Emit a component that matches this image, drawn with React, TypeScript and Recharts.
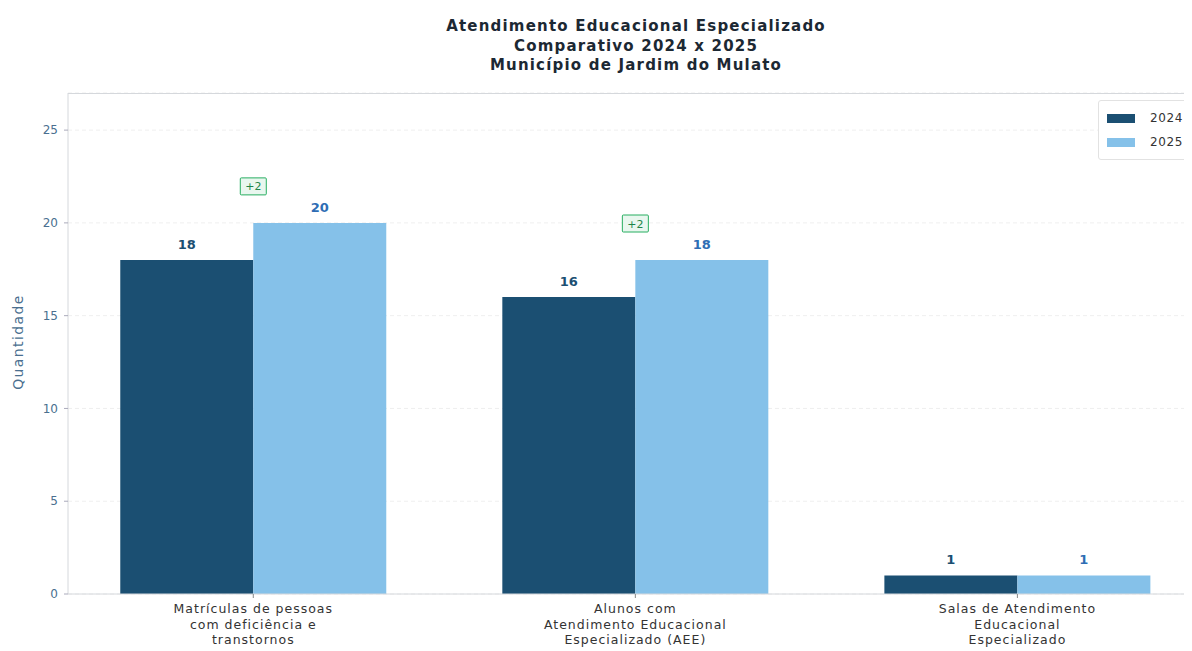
import React from 'react';
import { BarChart, Bar, XAxis, YAxis, CartesianGrid, LabelList, ReferenceDot } from 'recharts';

const categories = [
  ['Matrículas de pessoas', 'com deficiência e', 'transtornos'],
  ['Alunos com', 'Atendimento Educacional', 'Especializado (AEE)'],
  ['Salas de Atendimento', 'Educacional', 'Especializado'],
];
const values2024 = [18, 16, 1];
const values2025 = [20, 18, 1];
const yTicks = [0, 5, 10, 15, 20, 25];
const seriesNames = ['2024', '2025'];
const titleLines = ['Atendimento Educacional Especializado', 'Comparativo 2024 x 2025', 'Município de Jardim do Mulato'];

const data = categories.map((c, i) => ({ x: i, v2024: values2024[i], v2025: values2025[i] }));

const C2024 = '#1b4f72';
const C2025 = '#85c1e9';
const FONT = '"DejaVu Sans", sans-serif';

const XTick = (props: any) => {
  const { x, y, payload } = props;
  const lines = categories[payload.value] || [];
  return (
    <g transform={`translate(${x},${y})`}>
      {lines.map((l, i) => (
        <text key={i} x={0} y={13 + i * 15.5} textAnchor="middle" fontSize={12.5} letterSpacing={1} fill="#333" fontFamily={FONT}>
          {l}
        </text>
      ))}
    </g>
  );
};

const Badge = (delta: number) => (props: any) => {
  const { cx, cy } = props;
  const label = (delta > 0 ? '+' : '') + delta;
  return (
    <g>
      <rect x={cx - 13} y={cy - 45} width={26} height={17} fill="#e9f7ef" stroke="#27ae60" strokeWidth={1} rx={1} />
      <text x={cx} y={cy - 32.5} textAnchor="middle" fontSize={11} fill="#1e8449" fontFamily={FONT}>{label}</text>
    </g>
  );
};

export default function App() {
  return (
    <div style={{ position: 'relative', width: 1184, height: 643, background: '#fff', fontFamily: FONT }}>
      <div style={{ position: 'absolute', left: 378, width: 500, top: 9, textAlign: 'center', fontWeight: 'bold', fontSize: 15, letterSpacing: 1.2, lineHeight: '19.5px', color: '#1c2833' }}>
        {titleLines.map((t) => (<div key={t}>{t}</div>))}
      </div>
      <BarChart width={1184} height={643} data={data} margin={{ top: 85, right: 0, left: 0, bottom: 0 }} barGap={0}>
        <CartesianGrid vertical={false} stroke="#efefef" strokeDasharray="4 3" />
        <XAxis
          dataKey="x"
          type="number"
          domain={[-0.485, 2.457]}
          allowDataOverflow
          ticks={[0, 1, 2]}
          tick={<XTick />}
          height={57}
          stroke="#d5d8dc"
          tickSize={4}
          tickLine={{ stroke: '#888' }}
        />
        <YAxis
          domain={[0, 27]}
          ticks={yTicks}
          width={60}
          stroke="#d5d8dc"
          tickSize={4}
          tickMargin={6}
          tick={{ fontSize: 12, fill: '#4a6f8f', fontFamily: FONT }}
          tickLine={{ stroke: '#aab' }}
        />
        <Bar dataKey="v2024" name={seriesNames[0]} fill={C2024} barSize={133} isAnimationActive={false}>
          <LabelList dataKey="v2024" position="top" offset={11} style={{ fontSize: 13, fontWeight: 'bold', fill: '#1b4f72', fontFamily: FONT }} />
        </Bar>
        <Bar dataKey="v2025" name={seriesNames[1]} fill={C2025} barSize={133} isAnimationActive={false}>
          <LabelList dataKey="v2025" position="top" offset={11} style={{ fontSize: 13, fontWeight: 'bold', fill: '#2e6db4', fontFamily: FONT }} />
        </Bar>
        {data.map((d) => {
          const delta = d.v2025 - d.v2024;
          if (delta === 0) return null;
          return (
            <ReferenceDot key={d.x} x={d.x} y={Math.max(d.v2024, d.v2025)} r={0} shape={Badge(delta)} ifOverflow="visible" />
          );
        })}
      </BarChart>
      <div style={{ position: 'absolute', left: 60, top: 85, width: 1124, height: 1, background: '#d5d8dc' }} />
      <div style={{ position: 'absolute', left: 0, top: 334, width: 20, height: 0 }}>
        <div style={{ position: 'absolute', left: 0, top: 0, transform: 'translate(-50%, -50%) rotate(-90deg)', marginLeft: 10, whiteSpace: 'nowrap', fontSize: 14, letterSpacing: 1.4, color: '#4a6f8f' }}>
          Quantidade
        </div>
      </div>
      <div style={{ position: 'absolute', left: 1090, top: 92, width: 110, border: '1px solid #e2e2e2', background: '#fff', padding: '5px 0 5px 8px', fontSize: 12, letterSpacing: 0.6, color: '#333', borderRadius: 3, boxSizing: 'border-box' }}>
        {seriesNames.map((n, i) => (
          <div key={n} style={{ display: 'flex', alignItems: 'center', height: 24 }}>
            <span style={{ display: 'inline-block', width: 28, height: 9, background: i === 0 ? C2024 : C2025, marginRight: 15 }} />
            <span>{n}</span>
          </div>
        ))}
      </div>
    </div>
  );
}
